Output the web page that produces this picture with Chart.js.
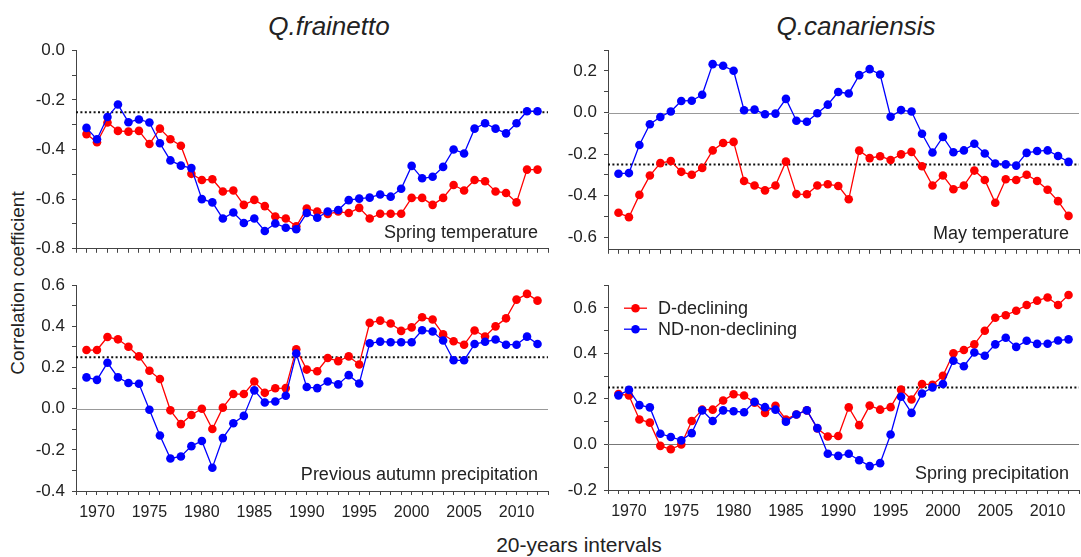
<!DOCTYPE html>
<html>
<head>
<meta charset="utf-8">
<script src="https://cdn.jsdelivr.net/npm/chart.js@4.4.1/dist/chart.umd.min.js"></script>
<style>
  html, body { margin: 0; padding: 0; background: #fff; overflow: hidden; }
  body { width: 1081px; height: 557px; position: relative; font-family: "Liberation Sans", Arial, sans-serif; color: #222; }
  .box { position: absolute; }
  .title { position: absolute; font-style: italic; font-size: 26px; transform: translate(-50%, -50%); white-space: nowrap; }
  .ylab { position: absolute; left: 18px; top: 283px; font-size: 19px; white-space: nowrap; transform: translate(-50%, -50%) rotate(-90deg); }
  .xlab { position: absolute; left: 579px; top: 545px; font-size: 21px; white-space: nowrap; transform: translate(-50%, -50%); }
</style>
</head>
<body>
<div class="title" style="left:329px; top:26px;">Q.frainetto</div>
<div class="title" style="left:856px; top:26px;">Q.canariensis</div>
<div class="ylab">Correlation coefficient</div>
<div class="xlab">20-years intervals</div>

<div class="box" style="left:16px; top:33px; width:540px; height:233px;"><canvas id="chart1"></canvas></div>
<div class="box" style="left:548px; top:33px; width:539px; height:234px;"><canvas id="chart2"></canvas></div>
<div class="box" style="left:16px; top:268px; width:540px; height:257px;"><canvas id="chart3"></canvas></div>
<div class="box" style="left:548px; top:268px; width:539px; height:256px;"><canvas id="chart4"></canvas></div>

<script>
// 20-year windows, labelled by year
const years = [1969, 1970, 1971, 1972, 1973, 1974, 1975, 1976, 1977, 1978,
    1979, 1980, 1981, 1982, 1983, 1984, 1985, 1986, 1987, 1988,
    1989, 1990, 1991, 1992, 1993, 1994, 1995, 1996, 1997, 1998,
    1999, 2000, 2001, 2002, 2003, 2004, 2005, 2006, 2007, 2008,
    2009, 2010, 2011, 2012];

const seriesNames = ['D-declining', 'ND-non-declining'];
const panelLabels = ['Spring temperature', 'May temperature', 'Previous autumn precipitation', 'Spring precipitation'];

// y tick positions (labels on every second one)
const ticksTempFr = [-0.8, -0.7, -0.6, -0.5, -0.4, -0.3, -0.2, -0.1, 0.0];
const ticksTempCa = [-0.6, -0.5, -0.4, -0.3, -0.2, -0.1, 0.0, 0.1, 0.2, 0.3];
const ticksPrecFr = [-0.4, -0.3, -0.2, -0.1, 0.0, 0.1, 0.2, 0.3, 0.4, 0.5, 0.6];
const ticksPrecCa = [-0.2, -0.1, 0.0, 0.1, 0.2, 0.3, 0.4, 0.5, 0.6, 0.7];

// Q.frainetto - spring temperature
const frainettoTempD = [-0.338, -0.371, -0.291, -0.325, -0.328, -0.325, -0.378, -0.316, -0.359, -0.385,
    -0.498, -0.523, -0.52, -0.569, -0.565, -0.623, -0.603, -0.628, -0.67, -0.678,
    -0.709, -0.638, -0.65, -0.66, -0.65, -0.656, -0.635, -0.678, -0.659, -0.659,
    -0.659, -0.595, -0.595, -0.623, -0.595, -0.543, -0.565, -0.523, -0.528, -0.569,
    -0.575, -0.613, -0.481, -0.481];
const frainettoTempND = [-0.313, -0.359, -0.269, -0.219, -0.29, -0.279, -0.291, -0.375, -0.444, -0.465,
    -0.475, -0.6, -0.613, -0.678, -0.654, -0.696, -0.678, -0.728, -0.698, -0.715,
    -0.721, -0.656, -0.675, -0.65, -0.644, -0.604, -0.598, -0.594, -0.581, -0.59,
    -0.558, -0.466, -0.516, -0.51, -0.47, -0.4, -0.416, -0.316, -0.294, -0.316,
    -0.335, -0.294, -0.246, -0.246];

// Q.canariensis - May temperature
const canariensisTempD = [-0.482, -0.503, -0.396, -0.303, -0.243, -0.233, -0.285, -0.299, -0.266, -0.182,
    -0.146, -0.141, -0.329, -0.351, -0.374, -0.351, -0.236, -0.392, -0.393, -0.351,
    -0.345, -0.353, -0.417, -0.183, -0.219, -0.21, -0.228, -0.201, -0.189, -0.258,
    -0.351, -0.303, -0.369, -0.351, -0.279, -0.324, -0.434, -0.321, -0.324, -0.299,
    -0.329, -0.371, -0.426, -0.497];
const canariensisTempND = [-0.294, -0.291, -0.156, -0.056, -0.021, 0.005, 0.056, 0.057, 0.086, 0.233,
    0.225, 0.201, 0.011, 0.014, -0.008, -0.005, 0.066, -0.039, -0.044, -0.003,
    0.038, 0.099, 0.092, 0.18, 0.209, 0.183, -0.02, 0.012, 0.005, -0.102,
    -0.192, -0.117, -0.191, -0.182, -0.15, -0.197, -0.245, -0.249, -0.255, -0.194,
    -0.185, -0.182, -0.209, -0.237];

// Q.frainetto - previous autumn precipitation
const frainettoPrecD = [0.285, 0.285, 0.348, 0.337, 0.301, 0.254, 0.184, 0.144, -0.008, -0.075,
    -0.031, 0.0, -0.099, 0.005, 0.071, 0.071, 0.132, 0.077, 0.099, 0.1,
    0.289, 0.19, 0.182, 0.246, 0.231, 0.254, 0.215, 0.417, 0.428, 0.414,
    0.378, 0.395, 0.444, 0.433, 0.361, 0.328, 0.311, 0.38, 0.351, 0.4,
    0.439, 0.53, 0.558, 0.525];
const frainettoPrecND = [0.152, 0.14, 0.223, 0.152, 0.125, 0.121, -0.005, -0.13, -0.242, -0.232,
    -0.182, -0.157, -0.287, -0.143, -0.071, -0.035, 0.089, 0.03, 0.035, 0.063,
    0.268, 0.105, 0.1, 0.132, 0.118, 0.163, 0.122, 0.318, 0.326, 0.323,
    0.323, 0.323, 0.381, 0.375, 0.331, 0.235, 0.235, 0.314, 0.325, 0.336,
    0.311, 0.311, 0.35, 0.314];

// Q.canariensis - spring precipitation
const canariensisPrecD = [0.222, 0.215, 0.11, 0.096, -0.006, -0.021, 0.0, 0.103, 0.153, 0.153,
    0.193, 0.221, 0.215, 0.184, 0.139, 0.17, 0.11, 0.132, 0.15, 0.07,
    0.035, 0.037, 0.163, 0.085, 0.171, 0.153, 0.164, 0.241, 0.198, 0.266,
    0.262, 0.302, 0.401, 0.415, 0.44, 0.5, 0.557, 0.568, 0.588, 0.613,
    0.632, 0.646, 0.613, 0.657];
const canariensisPrecND = [0.216, 0.24, 0.173, 0.163, 0.047, 0.033, 0.018, 0.05, 0.15, 0.103,
    0.15, 0.146, 0.142, 0.188, 0.164, 0.153, 0.1, 0.132, 0.15, 0.072,
    -0.041, -0.05, -0.041, -0.069, -0.095, -0.082, 0.044, 0.21, 0.139, 0.224,
    0.251, 0.266, 0.368, 0.344, 0.404, 0.39, 0.44, 0.469, 0.429, 0.456,
    0.442, 0.443, 0.457, 0.462];

const red = '#ff0000';
const blue = '#0000ff';
const fontFamily = '"Liberation Sans", Arial, sans-serif';

// zero line, dotted significance line, panel caption and legend
const panelDecor = {
    id: 'panelDecor',
    beforeDatasetsDraw(chart, args, opts) {
        const {ctx, chartArea} = chart;
        const y = chart.scales.y;
        ctx.save();
        if (opts.zeroColor) {
            const py = Math.round(y.getPixelForValue(0)) + 0.5;
            ctx.strokeStyle = opts.zeroColor;
            ctx.lineWidth = 1;
            ctx.beginPath();
            ctx.moveTo(chartArea.left, py);
            ctx.lineTo(chartArea.right, py);
            ctx.stroke();
        }
        const ty = y.getPixelForValue(opts.threshold);
        ctx.strokeStyle = '#111';
        ctx.lineWidth = 2;
        ctx.setLineDash([2, 2.4]);
        ctx.beginPath();
        ctx.moveTo(chartArea.left, ty);
        ctx.lineTo(chartArea.right, ty);
        ctx.stroke();
        ctx.restore();
    },
    afterDatasetsDraw(chart, args, opts) {
        const {ctx, chartArea} = chart;
        ctx.save();
        ctx.fillStyle = '#222';
        ctx.font = '18px ' + fontFamily;
        ctx.textAlign = 'right';
        ctx.textBaseline = 'alphabetic';
        ctx.fillText(opts.label, chartArea.right - 10, chartArea.bottom - 11);

        if (opts.legend) {
            const colors = [red, blue];
            seriesNames.forEach((name, i) => {
                const ly = chartArea.top + 23 + i * 21;
                const lx = chartArea.left + 16;
                ctx.strokeStyle = colors[i];
                ctx.lineWidth = 1.3;
                ctx.beginPath();
                ctx.moveTo(lx, ly);
                ctx.lineTo(lx + 23, ly);
                ctx.stroke();
                ctx.fillStyle = colors[i];
                ctx.beginPath();
                ctx.arc(lx + 11.5, ly, 4.3, 0, Math.PI * 2);
                ctx.fill();
                ctx.fillStyle = '#222';
                ctx.textAlign = 'left';
                ctx.textBaseline = 'middle';
                ctx.fillText(name, lx + 34, ly + 1);
            });
        }
        ctx.restore();
    }
};

function makePanel(id, dataD, dataND, yMin, yMax, yTicks, opt) {
    const ctx = document.getElementById(id);
    new Chart(ctx, {
        type: 'line',
        data: {
            datasets: [{
                label: seriesNames[0],
                data: years.map((yr, i) => ({x: yr, y: dataD[i]})),
                borderColor: red,
                backgroundColor: red,
                pointBackgroundColor: red,
                borderWidth: 1.3,
                pointRadius: 4.3,
                pointBorderWidth: 0,
                order: 1,
            }, {
                label: seriesNames[1],
                data: years.map((yr, i) => ({x: yr, y: dataND[i]})),
                borderColor: blue,
                backgroundColor: blue,
                pointBackgroundColor: blue,
                borderWidth: 1.3,
                pointRadius: 4.3,
                pointBorderWidth: 0,
                order: 0,
            }]
        },
        plugins: [panelDecor],
        options: {
            responsive: true,
            maintainAspectRatio: false,
            animation: false,
            events: [],
            layout: {
                padding: {top: 10, right: 0, bottom: 0, left: 0}
            },
            plugins: {
                legend: {display: false},
                tooltip: {enabled: false},
                panelDecor: opt,
            },
            scales: {
                x: {
                    type: 'linear',
                    min: 1968,
                    max: 2013,
                    afterFit: s => { s.height = opt.xLabels ? 34 : 10; },
                    ticks: {
                        stepSize: 1,
                        autoSkip: false,
                        maxRotation: 0,
                        padding: 8,
                        color: '#222',
                        font: {family: fontFamily, size: 16},
                        callback: v => (opt.xLabels && v % 5 === 0) ? String(v) : '',
                    },
                    grid: {drawOnChartArea: false, drawTicks: true, tickLength: 4, color: '#444'},
                    border: {color: '#444', width: 1},
                },
                y: {
                    min: yMin,
                    max: yMax,
                    afterFit: s => { s.width = 60; },
                    afterBuildTicks: s => { s.ticks = yTicks.map(v => ({value: v})); },
                    ticks: {
                        autoSkip: false,
                        padding: 7,
                        color: '#222',
                        font: {family: fontFamily, size: 17},
                        callback: v => {
                            if (Math.round(v * 10) % 2 !== 0) return '';
                            return Math.abs(v) < 1e-9 ? '0.0' : v.toFixed(1);
                        },
                    },
                    grid: {drawOnChartArea: false, drawTicks: true, tickLength: 4, color: '#444'},
                    border: {color: '#444', width: 1},
                }
            }
        }
    });
}

// Q.frainetto spring temperature
makePanel('chart1', frainettoTempD, frainettoTempND, -0.8, 0.0, ticksTempFr,
    {threshold: -0.25, zeroColor: null, label: panelLabels[0], xLabels: false, legend: false});

// Q.canariensis May temperature
makePanel('chart2', canariensisTempD, canariensisTempND, -0.66, 0.3, ticksTempCa,
    {threshold: -0.25, zeroColor: '#999', label: panelLabels[1], xLabels: false, legend: false});

// Q.frainetto previous autumn precipitation
makePanel('chart3', frainettoPrecD, frainettoPrecND, -0.4, 0.6, ticksPrecFr,
    {threshold: 0.25, zeroColor: '#999', label: panelLabels[2], xLabels: true, legend: false});

// Q.canariensis spring precipitation
makePanel('chart4', canariensisPrecD, canariensisPrecND, -0.2, 0.7, ticksPrecCa,
    {threshold: 0.25, zeroColor: '#777', label: panelLabels[3], xLabels: true, legend: true});
</script>
</body>
</html>
